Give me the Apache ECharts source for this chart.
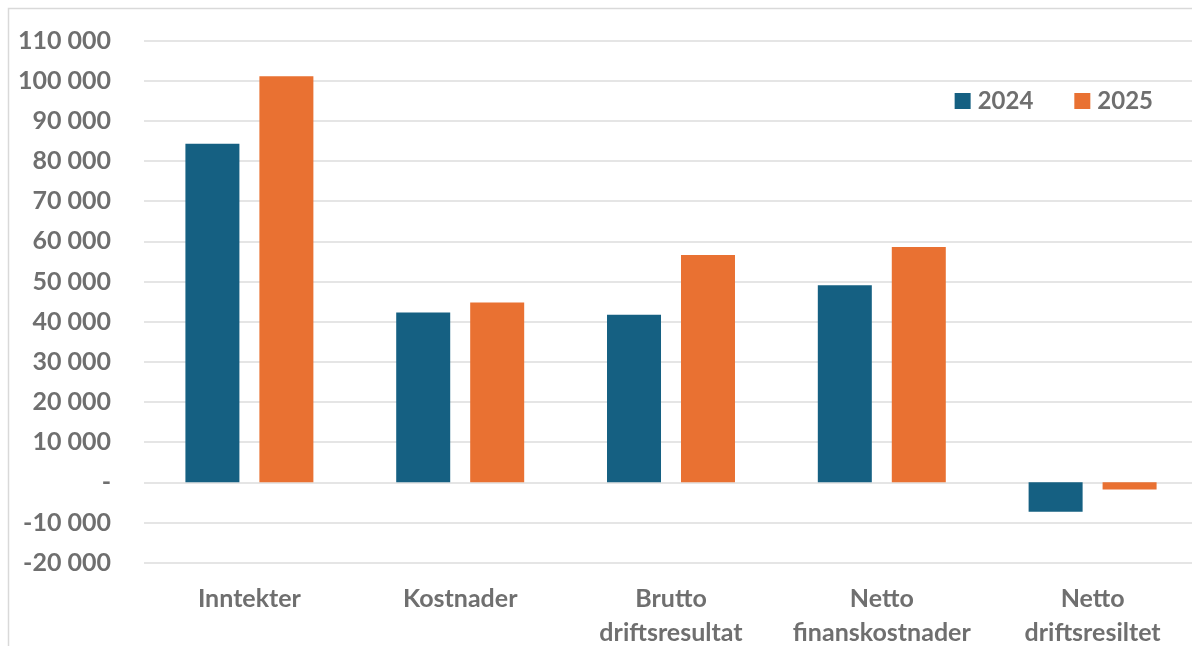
<!DOCTYPE html>
<html><head><meta charset="utf-8">
<script src="https://cdn.jsdelivr.net/npm/echarts@6/dist/echarts.min.js"></script>
<style>html,body{margin:0;padding:0;background:#fff}#c{width:1192px;height:646px}</style>
</head><body><div id="c"></div>
<script>
const categories = ['Inntekter', 'Kostnader', 'Brutto\ndriftsresultat', 'Netto\nfinanskostnader', 'Netto\ndriftsresiltet'];
const series2024 = [84300, 42300, 41700, 49100, -7300];
const series2025 = [101100, 44800, 56600, 58600, -1800];
const seriesNames = ['2024', '2025'];

const chart = echarts.init(document.getElementById('c'));
const fmt = v => v === 0 ? '-' : (v < 0 ? '-' : '') + String(Math.abs(v)).replace(/\B(?=(\d{3})+(?!\d))/g, ' ');
const font = 'Lato, "Open Sans", sans-serif';
chart.setOption({
  animation: false,
  graphic: [{type: 'rect', shape: {x: 8.5, y: 8.5, width: 1300, height: 800}, style: {fill: 'none', stroke: '#d9d9d9', lineWidth: 1.5}, silent: true}],
  grid: {left: 144, width: 1054, top: 40.5, bottom: 83.3, containLabel: false, outerBoundsMode: 'none'},
  legend: {
    data: seriesNames, right: 39, top: 89, padding: 0, itemWidth: 16, itemHeight: 16, itemGap: 41,
    icon: 'rect',
    textStyle: {fontFamily: font, fontWeight: 'bold', fontSize: 24, color: '#6f6f6f', padding: [0, 0, 0, 2]}
  },
  xAxis: {
    type: 'category', data: categories, position: 'bottom',
    axisLine: {show: false}, axisTick: {show: false},
    axisLabel: {fontFamily: font, fontWeight: 'bold', fontSize: 25, color: '#6f6f6f', margin: 19, lineHeight: 34, interval: 0}
  },
  yAxis: {
    type: 'value', min: -20000, max: 110000, interval: 10000,
    axisLine: {show: false}, axisTick: {show: false},
    splitLine: {lineStyle: {color: '#dcdcdc', width: 1.5}},
    axisLabel: {fontFamily: font, fontWeight: 'bold', fontSize: 25, color: '#6f6f6f', margin: 33, formatter: fmt}
  },
  series: [
    {name: seriesNames[0], type: 'bar', data: series2024, barWidth: 54, barGap: '37%', itemStyle: {color: '#156082'}},
    {name: seriesNames[1], type: 'bar', data: series2025, barWidth: 54, itemStyle: {color: '#E97132'}}
  ]
});
</script></body></html>
